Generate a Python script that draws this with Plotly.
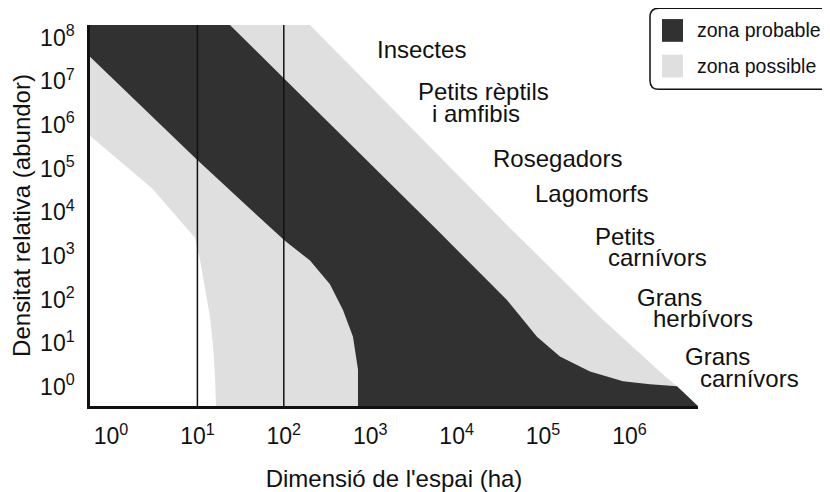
import plotly.graph_objects as go

# ---------------- data ----------------
x_tick_exponents = [0, 1, 2, 3, 4, 5, 6]
y_tick_exponents = [0, 1, 2, 3, 4, 5, 6, 7, 8]

# "zona probable" outline (x: ha, y: relative density)
probable_x = [0.571, 23.8, 5930, 12500, 38300, 85200, 157000, 350000, 843000,
              1.73e6, 3.56e6, 6.2e6, 722, 722, 632, 484, 342, 201, 103, 37.5,
              9.63, 0.571]
probable_y = [1.96e8, 1.96e8, 3970, 920, 97.5, 14.1, 4.97, 2.27, 1.35,
              1.15, 1.04, 0.366, 0.366, 2.52, 14.1, 57.8, 224, 787, 2230, 13900,
              170000, 3.69e7]

# "zona possible" outline (x: ha, y: relative density)
possible_x = [0.571, 201, 41500, 457000, 2.58e6, 3.56e6, 6.2e6, 16.4, 16.0,
              15.2, 14.0, 12.2, 10.7, 9.38, 5.97, 2.98, 0.571]
possible_y = [1.96e8, 1.96e8, 4400, 40.1, 1.75, 1.04, 0.366, 0.366, 1.75,
              8.37, 40.1, 192, 828, 2610, 7430, 35500, 566000]

reference_lines_x = [10, 100]
y_low, y_high = 0.366, 1.96e8

group_labels = ["Insectes", "Petits rèptils", "i amfibis", "Rosegadors",
                "Lagomorfs", "Petits", "carnívors", "Grans", "herbívors",
                "Grans", "carnívors"]
legend_labels = ["zona probable", "zona possible"]

# ---------------- styling / layout ----------------
DARK = "#313131"
LIGHT = "#dfdfdf"
INK = "#111111"
FONT = "Liberation Sans, Arial, Helvetica, sans-serif"

# The page body adds an 8px margin, so the figure keeps the full window size
# and its content is drawn 8px up/left (the last 8px fall outside the window).
OFF = 8
W, H = 830, 492
L, R, T, B = 90 - OFF, 698 - OFF, 25 - OFF, 410 - OFF   # plot area (figure px)


def pxx(x):  # window pixel -> paper x
    return (x - OFF - L) / (R - L)


def pxy(y):  # window pixel -> paper y
    return (B - (y - OFF)) / (B - T)


fig = go.Figure()
fig.add_trace(go.Scatter(x=possible_x, y=possible_y, fill="toself",
                         fillcolor=LIGHT, line=dict(width=0), mode="lines",
                         name=legend_labels[1], hoverinfo="skip"))
fig.add_trace(go.Scatter(x=probable_x, y=probable_y, fill="toself",
                         fillcolor=DARK, line=dict(width=0), mode="lines",
                         name=legend_labels[0], hoverinfo="skip"))
vx, vy = [], []
for xv in reference_lines_x:
    vx += [xv, xv, None]
    vy += [y_low, y_high, None]
fig.add_trace(go.Scatter(x=vx, y=vy, mode="lines",
                         line=dict(color=INK, width=1.5),
                         showlegend=False, hoverinfo="skip"))

label_pos = [(377, 50), (418, 92), (432, 114), (493, 160), (535, 195),
             (595, 239), (608, 260), (637, 300), (653, 322), (685, 360),
             (700, 382)]
annotations = []
for text, (lx, ly) in zip(group_labels, label_pos):
    annotations.append(dict(text=text, x=pxx(lx - 2), y=pxy(ly), xref="paper",
                            yref="paper", xanchor="left", yanchor="middle",
                            showarrow=False,
                            font=dict(family=FONT, size=24, color=INK)))

# legend (drawn by hand to match the rounded box)
r = 9
bx0, by0, bx1, by1 = 650, 8, 850, 90
path = (f"M {pxx(bx0 + r)},{pxy(by0)} L {pxx(bx1)},{pxy(by0)} "
        f"L {pxx(bx1)},{pxy(by1)} L {pxx(bx0 + r)},{pxy(by1)} "
        f"Q {pxx(bx0)},{pxy(by1)} {pxx(bx0)},{pxy(by1 - r)} "
        f"L {pxx(bx0)},{pxy(by0 + r)} Q {pxx(bx0)},{pxy(by0)} {pxx(bx0 + r)},{pxy(by0)} Z")
shapes = [dict(type="path", path=path, xref="paper", yref="paper",
               line=dict(color=INK, width=1.5), fillcolor="white", layer="above")]
for (sy0, sy1), col, txt, ty in [((19, 42), DARK, legend_labels[0], 30),
                                 ((55, 78), LIGHT, legend_labels[1], 66)]:
    shapes.append(dict(type="rect", xref="paper", yref="paper",
                       x0=pxx(662), x1=pxx(683), y0=pxy(sy1), y1=pxy(sy0),
                       fillcolor=col, line=dict(width=0), layer="above"))
    annotations.append(dict(text=txt, x=pxx(695), y=pxy(ty), xref="paper",
                            yref="paper", xanchor="left", yanchor="middle",
                            showarrow=False,
                            font=dict(family=FONT, size=19.5, color=INK)))

fig.update_layout(
    width=W, height=H,
    margin=dict(l=L, r=W - R, t=T, b=H - B, pad=0),
    paper_bgcolor="white", plot_bgcolor="white",
    showlegend=False,
    shapes=shapes, annotations=annotations,
    font=dict(family=FONT, color=INK),
)
fig.update_xaxes(
    type="log", range=[-0.2431, 6.794],
    tickvals=[10 ** e for e in x_tick_exponents],
    ticktext=[f"10<sup>{e}</sup>" for e in x_tick_exponents],
    tickfont=dict(size=23, family=FONT, color=INK),
    ticks="", ticklabelstandoff=8,
    showgrid=False, zeroline=False,
    showline=True, linecolor=INK, linewidth=2.5,
    title=dict(text="Dimensió de l'espai (ha)", standoff=22,
               font=dict(size=24, family=FONT, color=INK)),
)
fig.update_yaxes(
    type="log", range=[-0.437, 8.2923],
    tickvals=[10 ** e for e in y_tick_exponents],
    ticktext=[f"10<sup>{e}</sup>" for e in y_tick_exponents],
    tickfont=dict(size=23, family=FONT, color=INK),
    ticks="", ticklabelstandoff=8,
    showgrid=False, zeroline=False,
    showline=True, linecolor=INK, linewidth=2.5,
    title=dict(text="Densitat relativa (abundor)", standoff=3,
               font=dict(size=24, family=FONT, color=INK)),
)

fig.write_html("out.html")
